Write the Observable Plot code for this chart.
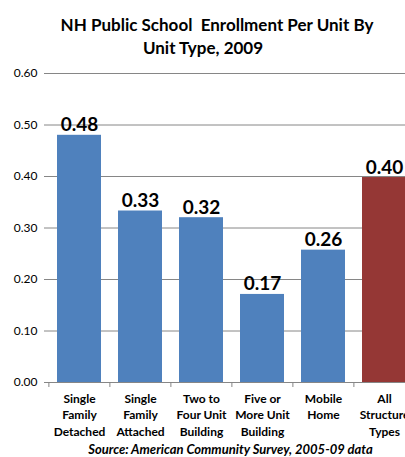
<!DOCTYPE html>
<html><head><meta charset="utf-8">
<script src="https://cdn.jsdelivr.net/npm/d3@7"></script>
<script src="https://cdn.jsdelivr.net/npm/@observablehq/plot@0.6"></script>
<style>
html,body{margin:0;padding:0;overflow:hidden;background:#fff;width:405px;height:457px;}
body{position:relative;font-family:Lato,"Open Sans",sans-serif;}
.t{position:absolute;left:0;text-align:center;font-weight:bold;font-size:17px;line-height:23px;color:#000;white-space:pre;}
#chart{position:absolute;left:0;top:60px;}
#chart svg{overflow:hidden;}
#cap{position:absolute;left:0;top:441px;width:461px;text-align:center;font-weight:bold;font-style:italic;font-size:13px;color:#000;white-space:pre;}
</style></head>
<body>
<div class="t" style="top:13px;width:434px;">NH Public School  Enrollment Per Unit By</div>
<div class="t" style="top:36px;width:406px;">Unit Type, 2009</div>
<div id="chart"></div>
<div id="cap">Source: American Community Survey, 2005-09 data</div>
<script>
const categories = ["Single\nFamily\nDetached","Single\nFamily\nAttached","Two to\nFour Unit\nBuilding","Five or\nMore Unit\nBuilding","Mobile\nHome","All\nStructure\nTypes"];
const values = [0.48, 0.333, 0.32, 0.171, 0.257, 0.398];
const labels = ["0.48","0.33","0.32","0.17","0.26","0.40"];
const groups = ["unit","unit","unit","unit","unit","all"];
const yTicks = [0, 0.1, 0.2, 0.3, 0.4, 0.5, 0.6];

const data = categories.map((c,i)=>({cat:c, value:values[i], label:labels[i], group:groups[i]}));
const step = (405 + 10.5 - 48) / categories.length;

const chart = Plot.plot({
  width: 405, height: 380,
  marginLeft: 48, marginRight: -10.5, marginTop: 13, marginBottom: 58,
  style: {fontFamily: "Lato, 'Open Sans', sans-serif", fontSize: "12px", color: "#000", background: "transparent", overflow: "visible"},
  x: {domain: categories, paddingInner: 0.28, paddingOuter: 0.14, align: 0.5},
  y: {domain: [0, 0.6]},
  color: {domain: ["unit","all"], range: ["#4F81BD","#953735"]},
  marks: [
    Plot.gridY(yTicks.slice(1), {stroke: "#868686", strokeOpacity: 1}),
    Plot.barY(data, {x: "cat", y: "value", fill: "group"}),
    Plot.text(data, {x: "cat", y: "value", text: "label", lineAnchor: "bottom", dy: -4, fontSize: 19, fontWeight: "bold", fill: "#000"}),
    Plot.axisY({ticks: yTicks, tickFormat: d3.format(".2f"), tickSize: 4, tickPadding: 7, stroke: "#868686", fontSize: 12, label: null}),
    Plot.ruleX([0], {frameAnchor: "left", stroke: "#868686"}),
    Plot.ruleY([0], {stroke: "#868686"}),
    Plot.axisX({ticks: categories, tickFormat: null, tickSize: 5, dx: -step/2, stroke: "#868686", label: null}),
    Plot.axisX({ticks: categories, tickSize: 0, tickPadding: 9, fontSize: 12, fontWeight: "bold", lineHeight: 1.36, label: null})
  ]
});
chart.setAttribute("height", 397);
chart.setAttribute("viewBox", "0 0 405 397");
document.getElementById("chart").appendChild(chart);
</script>
</body></html>
